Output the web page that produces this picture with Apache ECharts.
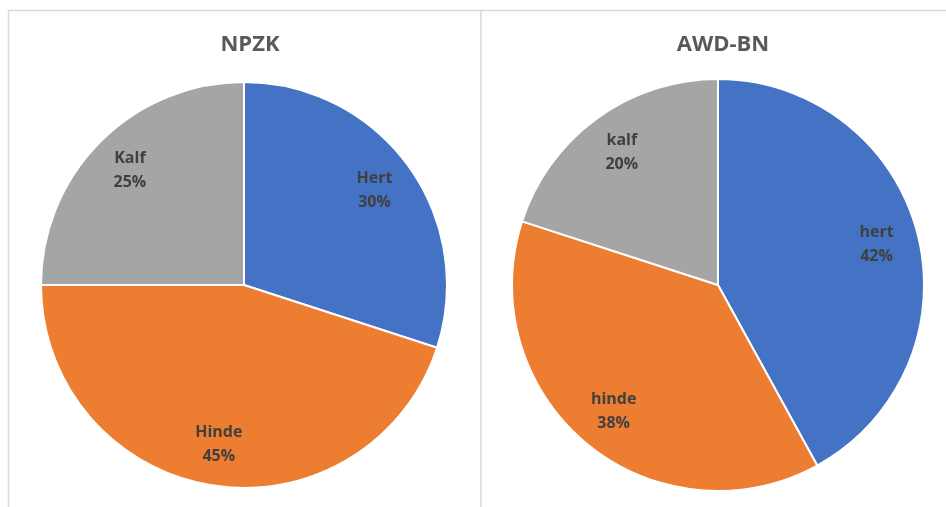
<!DOCTYPE html>
<html>
<head>
<meta charset="utf-8">
<script src="https://cdn.jsdelivr.net/npm/echarts@6/dist/echarts.min.js"></script>
<style>
html,body{margin:0;padding:0;background:#fff;}
#c{width:946px;height:507px;}
</style>
</head>
<body>
<div id="c"></div>
<script>
// Data
var leftTitle = 'NPZK';
var leftCategories = ['Hert', 'Hinde', 'Kalf'];
var leftValues = [30, 45, 25];
var rightTitle = 'AWD-BN';
var rightCategories = ['hert', 'hinde', 'kalf'];
var rightValues = [42, 38, 20];
var sliceColors = ['#4472C4', '#ED7D31', '#A5A5A5'];

function toData(cats, vals) {
  return cats.map(function (c, i) { return { name: c, value: vals[i] }; });
}

var labelStyle = {
  show: true,
  position: 'inside',
  formatter: function (p) { return p.name + '\n' + Math.round(p.percent) + '%'; },
  color: '#404040',
  fontFamily: 'Open Sans',
  fontWeight: 'bold',
  fontSize: 16,
  lineHeight: 24
};

function pieSeries(center, r, data) {
  return [
    {
      type: 'pie',
      center: center,
      radius: [0, r],
      startAngle: 90,
      clockwise: true,
      silent: true,
      animation: false,
      label: { show: false },
      labelLine: { show: false },
      itemStyle: { borderColor: '#ffffff', borderWidth: 2 },
      data: data
    },
    {
      type: 'pie',
      center: center,
      radius: [r * 0.58, r * 0.98],
      startAngle: 90,
      clockwise: true,
      silent: true,
      animation: false,
      itemStyle: { color: 'rgba(0,0,0,0)' },
      label: labelStyle,
      labelLine: { show: false },
      data: data
    }
  ];
}

var chart = echarts.init(document.getElementById('c'), null, { renderer: 'canvas' });
chart.setOption({
  animation: false,
  color: sliceColors,
  title: [
    { text: leftTitle, left: 245, top: 29, textAlign: 'center',
      textStyle: { fontFamily: 'Open Sans', fontWeight: 'bold', fontSize: 22, color: '#595959' } },
    { text: rightTitle, left: 718, top: 29, textAlign: 'center',
      textStyle: { fontFamily: 'Open Sans', fontWeight: 'bold', fontSize: 22, color: '#595959' } }
  ],
  graphic: [
    { type: 'line', shape: { x1: 8, y1: 10.5, x2: 946, y2: 10.5 }, style: { stroke: '#D9D9D9', lineWidth: 1.5 } },
    { type: 'line', shape: { x1: 8.5, y1: 10, x2: 8.5, y2: 507 }, style: { stroke: '#D9D9D9', lineWidth: 1.5 } },
    { type: 'line', shape: { x1: 481, y1: 10, x2: 481, y2: 507 }, style: { stroke: '#D9D9D9', lineWidth: 1.5 } }
  ],
  series: [].concat(
    pieSeries([244, 285], 203, toData(leftCategories, leftValues)),
    pieSeries([718, 285], 206, toData(rightCategories, rightValues))
  )
});
</script>
</body>
</html>
